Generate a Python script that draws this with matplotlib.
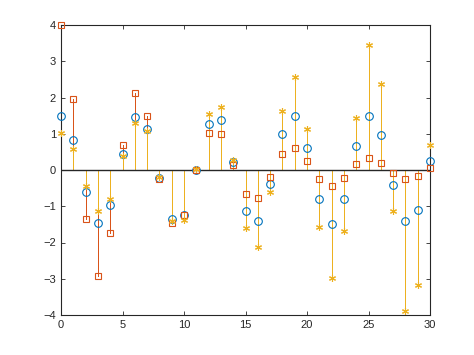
import numpy as np
import matplotlib
matplotlib.use('Agg')
import matplotlib.pyplot as plt

# valeurs
x = np.arange(0, 31)
serie_cercles = [1.50, 0.82, -0.61, -1.47, -0.96, 0.44, 1.45, 1.14, -0.23, -1.34,
                 -1.23, 0.00, 1.27, 1.37, 0.21, -1.13, -1.42, -0.39, 1.00, 1.50,
                 0.62, -0.81, -1.48, -0.79, 0.65, 1.50, 0.97, -0.42, -1.42, -1.11, 0.25]
serie_carres = [4.00, 1.95, -1.35, -2.93, -1.74, 0.70, 2.12, 1.50, -0.25, -1.46,
                -1.23, 0.00, 1.03, 1.00, 0.14, -0.67, -0.77, -0.18, 0.44, 0.61,
                0.24, -0.26, -0.44, -0.21, 0.17, 0.33, 0.20, -0.07, -0.24, -0.16, 0.05]
serie_etoiles = [1.01, 0.58, -0.43, -1.14, -0.80, 0.39, 1.31, 1.08, -0.20, -1.42,
                 -1.37, 0.02, 1.54, 1.75, 0.28, -1.60, -2.12, -0.61, 1.64, 2.57,
                 1.13, -1.56, -2.98, -1.67, 1.43, 3.46, 2.38, -1.12, -3.89, -3.17, 0.70]

bleu = '#0072BD'
orange = '#D95319'
jaune = '#EDB120'
gris = '#262626'

plt.rcParams['font.family'] = ['Liberation Sans', 'DejaVu Sans']

fig = plt.figure(figsize=(4.74, 3.55), dpi=100)
ax = fig.add_axes([61/474, 40/355, 369/474, 290/355])

series = [(serie_cercles, bleu, 'o', 5.5),
          (serie_carres, orange, 's', 4.5),
          (serie_etoiles, jaune, (6, 2, 0), 5)]

# d'abord les tiges, puis les marqueurs par-dessus
for y, col, m, ms in series:
    ax.vlines(x, 0, y, colors=col, linewidth=0.6, antialiased=False, zorder=2)
for y, col, m, ms in series:
    ax.plot(x, y, linestyle='none', marker=m, markersize=ms, clip_on=False,
            markerfacecolor='none', markeredgecolor=col, markeredgewidth=0.8, zorder=3)

ax.axhline(0, color=gris, linewidth=1.0, zorder=2.5)

ax.set_xlim(0, 30)
ax.set_ylim(-4, 4)
ax.set_xticks(np.arange(0, 31, 5))
ax.set_yticks(np.arange(-4, 5, 1))
ax.tick_params(direction='in', length=3, width=0.6, colors=gris, labelsize=8,
               top=True, right=True, labeltop=False, labelright=False)
for s in ax.spines.values():
    s.set_color(gris)
    s.set_linewidth(0.8)

fig.savefig('out.png', dpi=100)
